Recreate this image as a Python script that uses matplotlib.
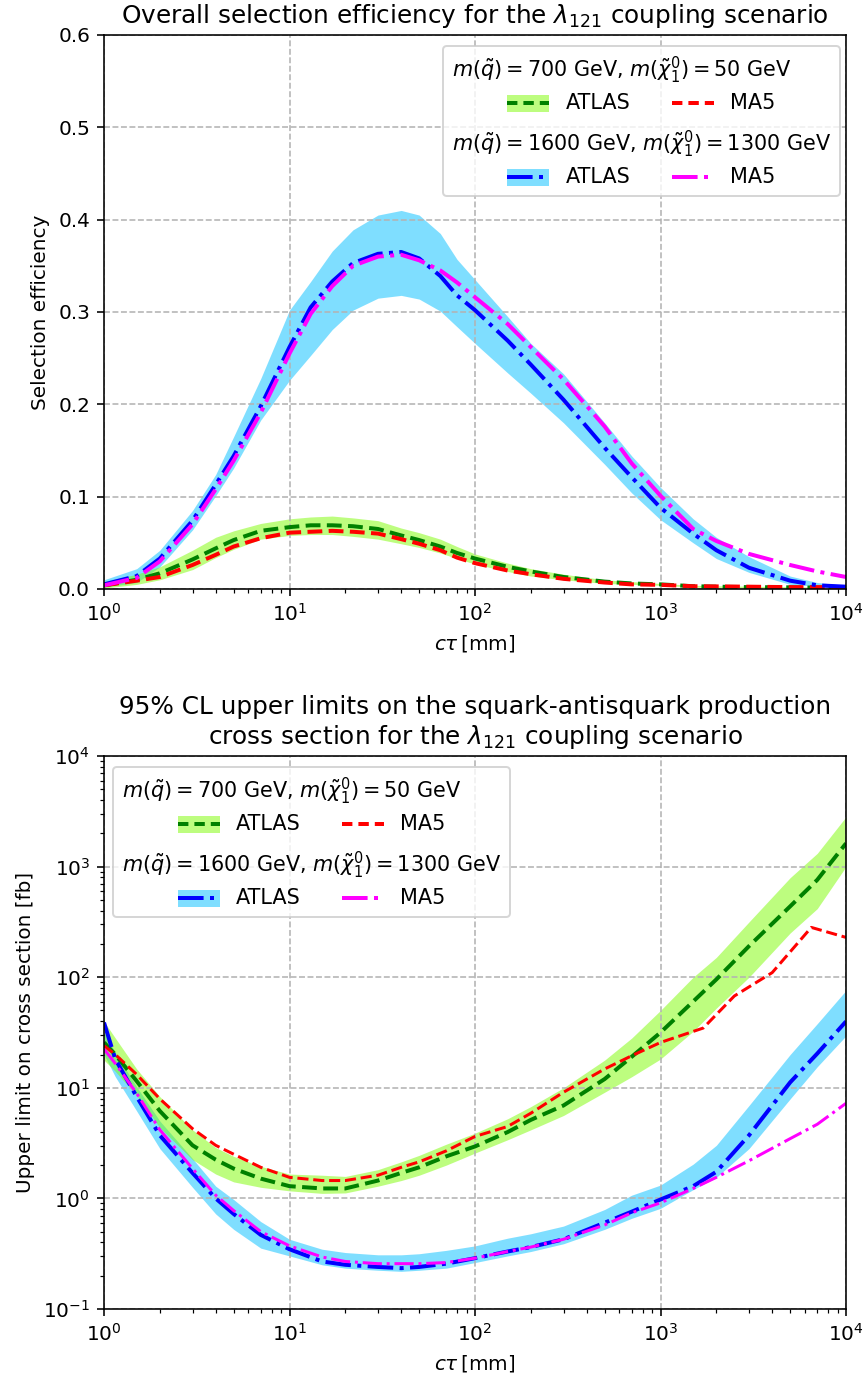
import matplotlib
matplotlib.use("Agg")
import matplotlib.pyplot as plt
from matplotlib.offsetbox import AnchoredOffsetbox, VPacker, HPacker, TextArea, DrawingArea
from matplotlib.patches import Rectangle
from matplotlib.lines import Line2D


# ---- selection efficiency (top panel) ----
ctau_eff = [1, 1.5, 2, 3, 4, 5, 7, 10, 13, 17, 22, 30, 40, 50, 65, 80, 100, 150, 200,
            300, 500, 700, 1000, 1500, 2000, 3000, 5000, 7000, 10000]

eff_heavy_atlas = [0.005, 0.014, 0.033, 0.074, 0.113, 0.144, 0.198, 0.262, 0.305, 0.333,
                   0.353, 0.363, 0.365, 0.358, 0.339, 0.318, 0.302, 0.269, 0.243, 0.205,
                   0.153, 0.121, 0.088, 0.060, 0.042, 0.023, 0.009, 0.004, 0.0025]
eff_heavy_up = [0.010, 0.022, 0.042, 0.085, 0.124, 0.165, 0.228, 0.302, 0.333, 0.366,
                0.389, 0.405, 0.410, 0.405, 0.385, 0.357, 0.335, 0.295, 0.266, 0.233,
                0.180, 0.144, 0.110, 0.076, 0.056, 0.035, 0.014, 0.007, 0.004]
eff_heavy_lo = [0.002, 0.007, 0.024, 0.064, 0.101, 0.131, 0.183, 0.226, 0.253, 0.281,
                0.302, 0.315, 0.318, 0.314, 0.301, 0.284, 0.266, 0.234, 0.212, 0.180,
                0.135, 0.104, 0.075, 0.050, 0.033, 0.018, 0.005, 0.003, 0.001]
eff_heavy_ma5 = [0.004, 0.012, 0.030, 0.070, 0.108, 0.139, 0.191, 0.255, 0.298, 0.328,
                 0.350, 0.360, 0.362, 0.356, 0.345, 0.332, 0.316, 0.287, 0.262, 0.227,
                 0.176, 0.136, 0.101, 0.065, 0.052, 0.038, 0.026, 0.019, 0.013]

eff_light_atlas = [0.004, 0.010, 0.017, 0.032, 0.044, 0.053, 0.063, 0.067, 0.069, 0.069,
                   0.068, 0.065, 0.058, 0.053, 0.046, 0.039, 0.033, 0.024, 0.019, 0.013,
                   0.008, 0.006, 0.005, 0.003, 0.0025, 0.002, 0.0018, 0.0015, 0.0015]
eff_light_up = [0.008, 0.016, 0.024, 0.042, 0.056, 0.063, 0.071, 0.076, 0.078, 0.079,
                0.077, 0.074, 0.066, 0.061, 0.054, 0.046, 0.038, 0.028, 0.022, 0.016,
                0.010, 0.008, 0.006, 0.004, 0.0035, 0.003, 0.0025, 0.002, 0.002]
eff_light_lo = [0.001, 0.005, 0.010, 0.021, 0.034, 0.043, 0.054, 0.058, 0.059, 0.059,
                0.057, 0.054, 0.049, 0.045, 0.039, 0.033, 0.027, 0.019, 0.014, 0.010,
                0.006, 0.005, 0.004, 0.002, 0.0018, 0.0015, 0.0012, 0.001, 0.001]
eff_light_ma5 = [0.004, 0.009, 0.013, 0.026, 0.037, 0.046, 0.055, 0.061, 0.062, 0.063,
                 0.062, 0.060, 0.054, 0.049, 0.042, 0.034, 0.028, 0.020, 0.016, 0.011,
                 0.007, 0.005, 0.0045, 0.003, 0.0028, 0.0025, 0.002, 0.002, 0.002]

# ---- cross-section upper limits (bottom panel) ----
ctau_xs = [1, 1.15, 1.5, 2, 3, 4, 5, 7, 10, 15, 20, 30, 40, 50, 70, 100, 150, 200, 300,
           500, 700, 1000, 1500, 2000, 3000, 5000, 7000, 10000]

xs_light_atlas = [25.7, 20.0, 11.5, 6.17, 3.02, 2.24, 1.86, 1.51, 1.29, 1.23, 1.23, 1.45,
                  1.70, 1.91, 2.40, 2.95, 3.98, 5.13, 6.92, 12.0, 19.1, 31.6, 60.3, 95.5,
                  191, 437, 759, 1622]
xs_light_up = [39.8, 28.2, 14.8, 8.32, 4.17, 2.88, 2.40, 1.95, 1.66, 1.62, 1.58, 1.82, 2.14,
               2.45, 3.09, 3.89, 5.25, 6.76, 10.0, 17.8, 28.2, 50.1, 100, 151, 316, 794,
               1318, 2818]
xs_light_lo = [17.8, 14.1, 8.51, 4.37, 2.24, 1.66, 1.41, 1.26, 1.17, 1.11, 1.12, 1.29, 1.45,
               1.62, 2.00, 2.57, 3.39, 4.17, 5.62, 9.12, 12.6, 18.2, 32.4, 52.5, 100, 251,
               417, 1000]

ctau_xs_ma5_light = [1, 1.15, 1.5, 2, 3, 4, 5, 7, 10, 15, 20, 30, 40, 50, 70, 100, 150, 200,
                     300, 500, 700, 1000, 1700, 2500, 4000, 6500, 10000]
xs_light_ma5 = [24.0, 20.0, 13.2, 7.94, 4.27, 3.02, 2.51, 1.91, 1.55, 1.45, 1.45, 1.62, 1.91,
                2.14, 2.69, 3.63, 4.47, 5.89, 9.12, 14.8, 19.5, 25.7, 34.7, 67.6, 110, 282, 229]

xs_heavy_atlas = [38.9, 18.2, 8.32, 3.72, 1.70, 1.00, 0.724, 0.468, 0.347, 0.269, 0.251,
                  0.240, 0.234, 0.240, 0.257, 0.288, 0.331, 0.363, 0.427, 0.603, 0.759,
                  0.977, 1.29, 1.74, 3.72, 11.2, 20.4, 39.8]
xs_heavy_up = [31.6, 20.9, 10.2, 5.01, 2.29, 1.29, 0.977, 0.617, 0.427, 0.347, 0.324, 0.309,
               0.309, 0.316, 0.339, 0.372, 0.437, 0.479, 0.562, 0.794, 1.07, 1.32, 2.04,
               3.02, 6.92, 20.0, 38.0, 75.9]
xs_heavy_lo = [20.0, 12.6, 6.17, 2.82, 1.26, 0.724, 0.525, 0.355, 0.302, 0.251, 0.234, 0.224,
               0.219, 0.224, 0.234, 0.263, 0.302, 0.331, 0.389, 0.525, 0.661, 0.813, 1.20,
               1.55, 2.82, 7.94, 15.5, 29.5]
xs_heavy_ma5 = [22.4, 16.6, 8.91, 4.17, 1.86, 1.07, 0.776, 0.501, 0.372, 0.295, 0.269, 0.257,
                0.257, 0.257, 0.263, 0.288, 0.331, 0.363, 0.427, 0.575, 0.741, 0.912, 1.23,
                1.55, 2.19, 3.47, 4.68, 7.24]

HEADER_LIGHT = r"$m(\tilde{q}) = 700$ GeV, $m(\tilde{\chi}_1^0) = 50$ GeV"
HEADER_HEAVY = r"$m(\tilde{q}) = 1600$ GeV, $m(\tilde{\chi}_1^0) = 1300$ GeV"

GREEN_BAND = "lawngreen"
BLUE_BAND = "deepskyblue"
STY_LIGHT_ATLAS = dict(color="green", ls="--", lw=2)
STY_LIGHT_MA5 = dict(color="red", ls="--", lw=2)
STY_HEAVY_ATLAS = dict(color="blue", ls="-.", lw=2)
STY_HEAVY_MA5 = dict(color="magenta", ls="-.", lw=2)
THIN = dict(lw=1.5)

DPI = 144
fig = plt.figure(figsize=(866 / DPI, 1380 / DPI), dpi=DPI)
renderer = fig.canvas.get_renderer()


def handle(style, band=None):
    da = DrawingArea(21, 8.5, 0, 0)
    if band is not None:
        da.add_artist(Rectangle((0, 0), 21, 8.5, color=band, alpha=0.5, lw=0))
    kw = dict(style)
    if kw["ls"] == "--":
        kw.pop("ls")
        kw["dashes"] = (2.6, 1.5)
    da.add_artist(Line2D([0, 21], [4.25, 4.25], **kw))
    return da


def add_legend(ax, loc, anchor):
    fs = 10.4
    entries = [
        (HEADER_LIGHT, GREEN_BAND, STY_LIGHT_ATLAS, STY_LIGHT_MA5),
        (HEADER_HEAVY, BLUE_BAND, STY_HEAVY_ATLAS, STY_HEAVY_MA5),
    ]
    headers, rows = [], []
    for header, band, s_atlas, s_ma5 in entries:
        headers.append(TextArea(header, textprops=dict(size=fs)))
        rows.append(HPacker(children=[
            HPacker(children=[handle(s_atlas, band), TextArea("ATLAS", textprops=dict(size=fs))],
                    align="center", pad=0, sep=8),
            HPacker(children=[handle(s_ma5), TextArea("MA5", textprops=dict(size=fs))],
                    align="center", pad=0, sep=8),
        ], align="center", pad=0, sep=21))
    for b in headers + rows:
        b.set_figure(fig)
    full_w = max(h.get_bbox(renderer).width for h in headers)
    groups = []
    for h, r in zip(headers, rows):
        shift = (full_w - r.get_bbox(renderer).width) / 2 * 72 / DPI
        padded = HPacker(children=[DrawingArea(max(shift, 0), 1), r], align="center", pad=0, sep=0)
        groups.append(VPacker(children=[h, padded], align="left", pad=0, sep=3.5))
    box = VPacker(children=groups, align="left", pad=0, sep=8)
    anc = AnchoredOffsetbox(loc=loc, child=box, pad=0.45, borderpad=0, frameon=True,
                            bbox_to_anchor=anchor, bbox_transform=ax.transAxes)
    anc.patch.set_boxstyle("round,pad=0,rounding_size=0.2")
    anc.patch.set_edgecolor("0.8")
    anc.patch.set_facecolor("white")
    anc.patch.set_alpha(0.8)
    ax.add_artist(anc)


ax1 = fig.add_axes([104 / 866, 1 - 589 / 1380, 742 / 866, 554 / 1380])
ax1.fill_between(ctau_eff, eff_heavy_lo, eff_heavy_up, color=BLUE_BAND, alpha=0.5, lw=0)
ax1.fill_between(ctau_eff, eff_light_lo, eff_light_up, color=GREEN_BAND, alpha=0.5, lw=0)
ax1.plot(ctau_eff, eff_light_atlas, **STY_LIGHT_ATLAS)
ax1.plot(ctau_eff, eff_light_ma5, **STY_LIGHT_MA5)
ax1.plot(ctau_eff, eff_heavy_atlas, **STY_HEAVY_ATLAS)
ax1.plot(ctau_eff, eff_heavy_ma5, **STY_HEAVY_MA5)
ax1.set_xscale("log")
ax1.set_xlim(1, 1e4)
ax1.set_ylim(0, 0.6)
ax1.grid(True, which="major", ls="--", color="0.7")
ax1.set_xlabel(r"$c\tau\,$[mm]")
ax1.set_ylabel("Selection efficiency")
ax1.set_title(r"Overall selection efficiency for the $\lambda_{121}$ coupling scenario",
              fontsize=12.4)
add_legend(ax1, "upper right", ((840 - 104) / 742, (589 - 46) / 554))

ax2 = fig.add_axes([104 / 866, 1 - 1309 / 1380, 742 / 866, 553 / 1380])
ax2.fill_between(ctau_xs, xs_heavy_lo, xs_heavy_up, color=BLUE_BAND, alpha=0.5, lw=0)
ax2.fill_between(ctau_xs, xs_light_lo, xs_light_up, color=GREEN_BAND, alpha=0.5, lw=0)
ax2.plot(ctau_xs, xs_light_atlas, **STY_LIGHT_ATLAS)
ax2.plot(ctau_xs_ma5_light, xs_light_ma5, **{**STY_LIGHT_MA5, **THIN})
ax2.plot(ctau_xs, xs_heavy_atlas, **STY_HEAVY_ATLAS)
ax2.plot(ctau_xs, xs_heavy_ma5, **{**STY_HEAVY_MA5, **THIN})
ax2.set_xscale("log")
ax2.set_yscale("log")
ax2.set_xlim(1, 1e4)
ax2.set_ylim(0.1, 1e4)
ax2.grid(True, which="major", ls="--", color="0.7")
ax2.set_xlabel(r"$c\tau\,$[mm]")
ax2.set_ylabel("Upper limit on cross section [fb]")
ax2.set_title("95% CL upper limits on the squark-antisquark production\n"
              r"cross section for the $\lambda_{121}$ coupling scenario", fontsize=12.4)
add_legend(ax2, "upper left", ((113 - 104) / 742, (1309 - 767) / 553))

fig.savefig("out.png", dpi=DPI)
